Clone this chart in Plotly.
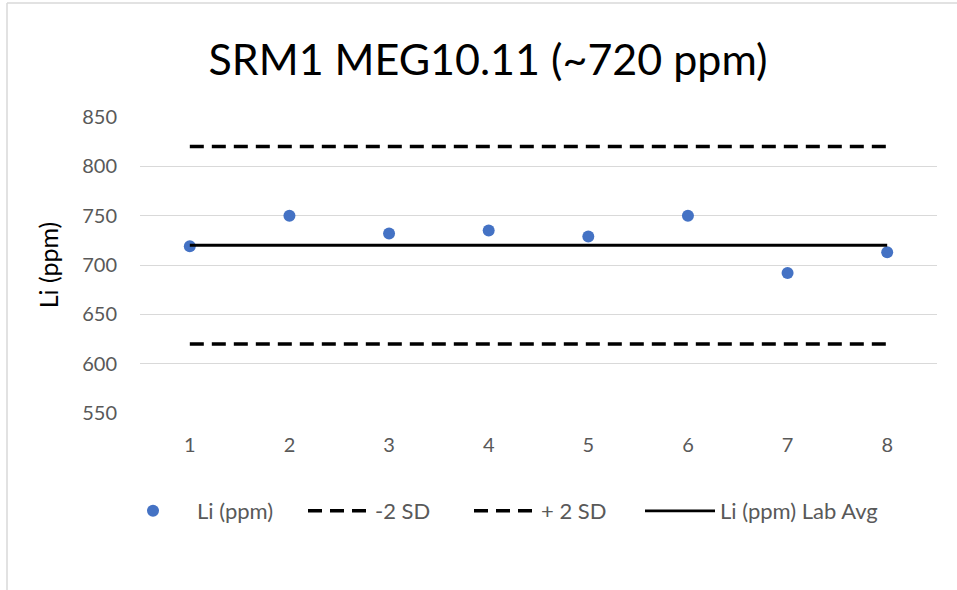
import plotly.graph_objects as go

samples = [1, 2, 3, 4, 5, 6, 7, 8]
li_ppm = [719, 750, 732, 735, 729, 750, 692, 713]
minus_2sd = [620] * 8
plus_2sd = [820] * 8
lab_avg = [720] * 8

W, H = 957, 590
ML, MR, MT, MB = 140, 20, 117, 177

def px_x(p):
    return (p - ML) / (W - ML - MR)

def px_y(p):
    return 1 - (p - MT) / (H - MT - MB)

fig = go.Figure()
fig.add_trace(go.Scatter(x=samples, y=li_ppm, mode="markers", name="Li (ppm)",
                         marker=dict(color="#4472C4", size=12), legend="legend"))
fig.add_trace(go.Scatter(x=samples, y=minus_2sd, mode="lines", name="-2 SD",
                         line=dict(color="black", width=3.5, dash="14px,8px"), legend="legend2"))
fig.add_trace(go.Scatter(x=samples, y=plus_2sd, mode="lines", name="+ 2 SD",
                         line=dict(color="black", width=3.5, dash="14px,8px"), legend="legend3"))
fig.add_trace(go.Scatter(x=samples, y=lab_avg, mode="lines", name="Li (ppm) Lab Avg",
                         line=dict(color="black", width=2.8), legend="legend4"))

legend_font = dict(size=22, color="#595959")
def leg(xpx, iw):
    return dict(orientation="h", x=px_x(xpx), xanchor="left", y=px_y(511), yanchor="middle",
                font=legend_font, itemwidth=iw, bgcolor="rgba(0,0,0,0)")

fig.update_layout(
    width=W, height=H,
    margin=dict(l=ML, r=MR, t=MT, b=MB),
    plot_bgcolor="white", paper_bgcolor="white",
    font=dict(family="Lato, 'Open Sans', sans-serif", color="#595959"),
    title=dict(text="SRM1 MEG10.11 (~720 ppm)", x=488 / W, xanchor="center",
               y=1 - 60 / H, yanchor="middle",
               font=dict(size=43, color="black")),
    xaxis=dict(range=[0.5, 8.5], tickvals=samples, showgrid=False, zeroline=False,
               showline=False, ticks="", ticklabelstandoff=18,
               tickfont=dict(size=20, color="#595959")),
    yaxis=dict(range=[550, 850], dtick=50, showgrid=True, gridcolor="#D9D9D9",
               gridwidth=1.3, zeroline=False, showline=False, ticks="",
               ticklabelstandoff=22,
               tickfont=dict(size=20, color="#595959"),
               title=dict(text="Li (ppm)", font=dict(size=25, color="black"), standoff=16)),
    legend=leg(109, 78),
    legend2=leg(303, 62),
    legend3=leg(469, 62),
    legend4=leg(640, 70),
    showlegend=True,
)

fig.add_shape(type="line", xref="paper", yref="paper",
              x0=px_x(7), x1=px_x(7), y0=px_y(3), y1=px_y(592),
              line=dict(color="#D9D9D9", width=1.5))
fig.add_shape(type="line", xref="paper", yref="paper",
              x0=px_x(7), x1=px_x(960), y0=px_y(3), y1=px_y(3),
              line=dict(color="#D9D9D9", width=1.5))

fig.write_html("out.html")
